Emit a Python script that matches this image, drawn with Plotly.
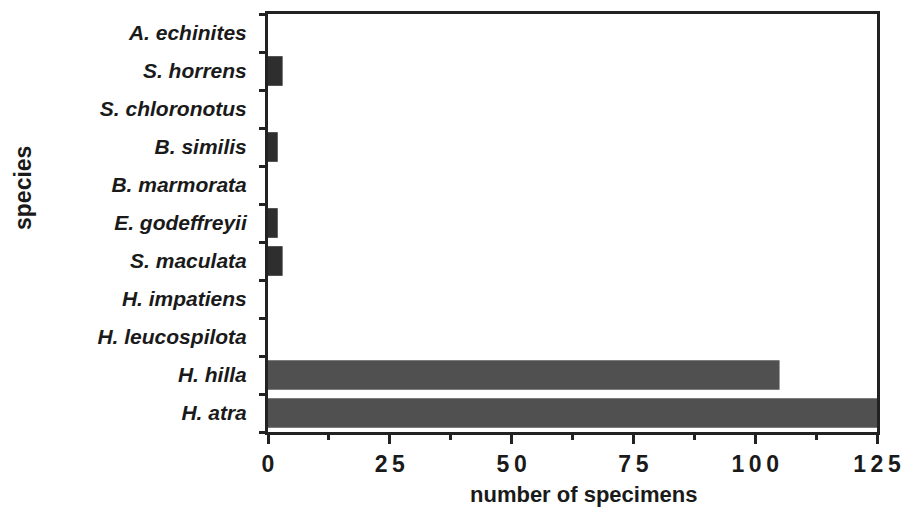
import plotly.graph_objects as go

species = ["H. atra", "H. hilla", "H. leucospilota", "H. impatiens", "S. maculata",
           "E. godeffreyii", "B. marmorata", "B. similis", "S. chloronotus",
           "S. horrens", "A. echinites"]
counts = [125, 105, 0, 0, 3, 2, 0, 2, 0, 3, 0]
x_ticks = [0, 25, 50, 75, 100, 125]
x_tick_text = ["0", "2\u20095", "5\u20090", "7\u20095", "1\u20090\u20090", "1\u20092\u20095"]

bar_colors = ["#505050" if c > 50 else "#2e2e2e" for c in counts]

fig = go.Figure(go.Bar(
    x=counts, y=species, orientation="h",
    marker=dict(color=bar_colors, line=dict(width=0)),
    width=0.78,
))

L, R, T, B = 268, 29, 14, 78
PW = 906 - L - R
PH = 510 - T - B
axis_col = "#222222"
fig.update_layout(
    width=906, height=510,
    margin=dict(l=L, r=R, t=T, b=B),
    paper_bgcolor="white", plot_bgcolor="white",
    showlegend=False,
    font=dict(family="Liberation Sans, Arial", color="#1a1a1a"),
    xaxis=dict(
        range=[0, 125], tickvals=x_ticks, ticktext=x_tick_text,
        ticks="outside", ticklen=9, tickwidth=3, tickcolor=axis_col,
        minor=dict(tickvals=[12.5, 37.5, 62.5, 87.5, 112.5], ticks="outside",
                   ticklen=5, tickwidth=3, tickcolor=axis_col),
        showline=True, linecolor=axis_col, linewidth=3, mirror=True,
        showgrid=False, zeroline=False,
        tickfont=dict(size=23, weight="bold"),
        automargin=False,
        fixedrange=True,
    ),
    yaxis=dict(
        categoryorder="array", categoryarray=species,
        tickson="boundaries",
        ticks="outside", ticklen=6, tickwidth=3, tickcolor=axis_col,
        showline=True, linecolor=axis_col, linewidth=3, mirror=True,
        showgrid=False, zeroline=False,
        tickfont=dict(size=21, style="italic", weight="bold"),
        ticklabelstandoff=14,
        automargin=False,
        fixedrange=True,
    ),
    annotations=[
        dict(
            text="species", xref="paper", yref="paper",
            x=(23 - L) / PW, y=(510 - 188 - B) / PH, xanchor="center", yanchor="middle",
            textangle=-90, showarrow=False,
            font=dict(size=23, weight="bold", family="Liberation Sans, Arial"),
        ),
        dict(
            text="number of specimens", xref="paper", yref="paper",
            x=(583 - L) / PW, y=(510 - 494 - B) / PH, xanchor="center", yanchor="middle",
            showarrow=False,
            font=dict(size=22, weight="bold", family="Liberation Sans, Arial"),
        ),
    ],
)

fig.write_html("out.html")
